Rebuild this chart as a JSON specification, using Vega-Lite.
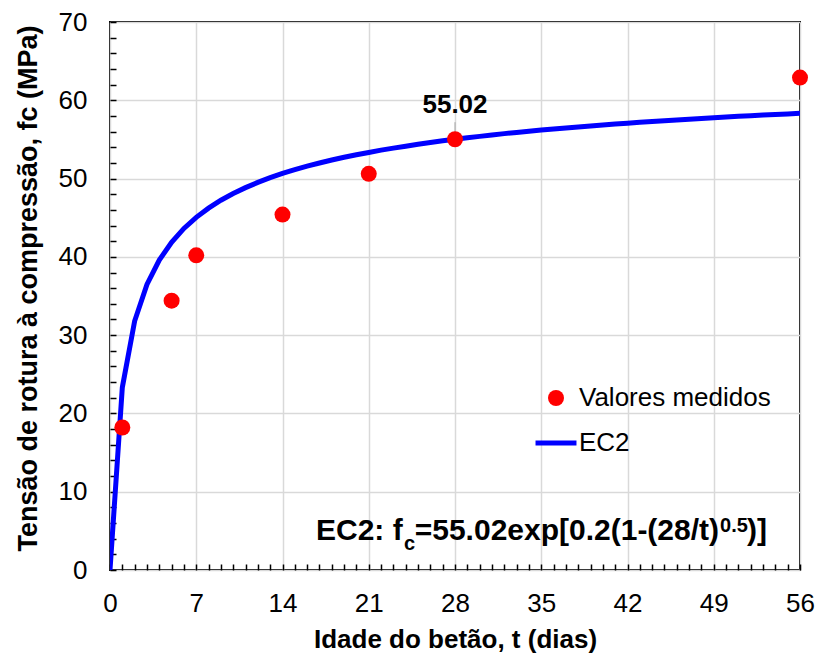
{
  "$schema": "https://vega.github.io/schema/vega-lite/v6.json",
  "width": 690,
  "height": 548,
  "autosize": "none",
  "padding": {"left": 110, "top": 22, "right": 17, "bottom": 85},
  "background": "white",
  "config": {
    "font": "Liberation Sans",
    "view": {"stroke": "#000000", "strokeWidth": 2}
  },
  "datasets": {
    "measured": [
      {"t": 1, "fc": 18.2, "series": "Valores medidos"},
      {"t": 5, "fc": 34.4, "series": "Valores medidos"},
      {"t": 7, "fc": 40.2, "series": "Valores medidos"},
      {"t": 14, "fc": 45.4, "series": "Valores medidos"},
      {"t": 21, "fc": 50.6, "series": "Valores medidos"},
      {"t": 28, "fc": 55.02, "series": "Valores medidos"},
      {"t": 56, "fc": 62.9, "series": "Valores medidos"}
    ],
    "ec2": [
      {"t": 0, "fc": 0}, {"t": 1, "fc": 23.32}, {"t": 2, "fc": 31.8}, {"t": 3, "fc": 36.48},
      {"t": 4, "fc": 39.59}, {"t": 5, "fc": 41.86}, {"t": 6, "fc": 43.63}, {"t": 7, "fc": 45.05},
      {"t": 8, "fc": 46.22}, {"t": 9, "fc": 47.23}, {"t": 10, "fc": 48.09}, {"t": 11, "fc": 48.84},
      {"t": 12, "fc": 49.51}, {"t": 13, "fc": 50.11}, {"t": 14, "fc": 50.65}, {"t": 15, "fc": 51.13},
      {"t": 16, "fc": 51.58}, {"t": 17, "fc": 51.99}, {"t": 18, "fc": 52.37}, {"t": 19, "fc": 52.72},
      {"t": 20, "fc": 53.04}, {"t": 21, "fc": 53.34}, {"t": 22, "fc": 53.63}, {"t": 23, "fc": 53.89},
      {"t": 24, "fc": 54.14}, {"t": 25, "fc": 54.38}, {"t": 26, "fc": 54.61}, {"t": 27, "fc": 54.82},
      {"t": 28, "fc": 55.02}, {"t": 29, "fc": 55.21}, {"t": 30, "fc": 55.39}, {"t": 31, "fc": 55.57},
      {"t": 32, "fc": 55.74}, {"t": 33, "fc": 55.89}, {"t": 34, "fc": 56.05}, {"t": 35, "fc": 56.19},
      {"t": 36, "fc": 56.33}, {"t": 37, "fc": 56.47}, {"t": 38, "fc": 56.6}, {"t": 39, "fc": 56.73},
      {"t": 40, "fc": 56.85}, {"t": 41, "fc": 56.96}, {"t": 42, "fc": 57.08}, {"t": 43, "fc": 57.19},
      {"t": 44, "fc": 57.29}, {"t": 45, "fc": 57.39}, {"t": 46, "fc": 57.49}, {"t": 47, "fc": 57.59},
      {"t": 48, "fc": 57.68}, {"t": 49, "fc": 57.77}, {"t": 50, "fc": 57.86}, {"t": 51, "fc": 57.95},
      {"t": 52, "fc": 58.03}, {"t": 53, "fc": 58.11}, {"t": 54, "fc": 58.19}, {"t": 55, "fc": 58.26},
      {"t": 56, "fc": 58.34}
    ]
  },
  "layer": [
    {
      "data": {"name": "ec2"},
      "mark": {"type": "line", "color": "#0000ff", "strokeWidth": 5, "clip": true},
      "encoding": {
        "x": {
          "field": "t", "type": "quantitative",
          "scale": {"domain": [0, 56], "nice": false, "zero": false},
          "axis": {
            "title": "Idade do betão, t (dias)",
            "values": [0,1,2,3,4,5,6,7,8,9,10,11,12,13,14,15,16,17,18,19,20,21,22,23,24,25,26,27,28,29,30,31,32,33,34,35,36,37,38,39,40,41,42,43,44,45,46,47,48,49,50,51,52,53,54,55,56],
            "tickCount": 200,
            "format": "d",
            "offset": -6,
            "domain": false,
            "labelExpr": "datum.value % 7 === 0 ? datum.label : ''",
            "labelFontSize": 26, "labelColor": "#000000", "labelPadding": 20,
            "labelFlush": false, "labelOverlap": false,
            "ticks": true, "tickOpacity": 1,
            "tickSize": 6, "tickColor": "#000000", "tickWidth": 1.5,
            "grid": true, "gridColor": "#d9d9d9", "gridWidth": 1.5,
            "gridOpacity": {"condition": {"test": "datum.value % 7 === 0", "value": 1}, "value": 0},
            "titleFontSize": 26, "titleFontWeight": "bold", "titleColor": "#000000", "titlePadding": 10
          }
        },
        "y": {
          "field": "fc", "type": "quantitative",
          "scale": {"domain": [0, 70], "nice": false, "zero": false},
          "axis": {
            "title": "Tensão de rotura à compressão, fc (MPa)",
            "values": [0,2,4,6,8,10,12,14,16,18,20,22,24,26,28,30,32,34,36,38,40,42,44,46,48,50,52,54,56,58,60,62,64,66,68,70],
            "tickCount": 200,
            "format": "d",
            "offset": -6,
            "domain": false,
            "labelExpr": "datum.value % 10 === 0 ? datum.label : ''",
            "labelFontSize": 26, "labelColor": "#000000", "labelPadding": 23,
            "labelFlush": false, "labelOverlap": false,
            "ticks": true, "tickOpacity": 1,
            "tickSize": 6, "tickColor": "#000000", "tickWidth": 1.5,
            "grid": true, "gridColor": "#d9d9d9", "gridWidth": 1.5,
            "gridOpacity": {"condition": {"test": "datum.value % 10 === 0", "value": 1}, "value": 0},
            "titleFontSize": 27, "titleFontWeight": "bold", "titleColor": "#000000", "titlePadding": 16,
            "titleY": 266
          }
        }
      }
    },
    {
      "data": {"name": "measured"},
      "transform": [{"filter": "datum.t === 28"}],
      "mark": {"type": "rule", "color": "#a6a6a6", "strokeWidth": 1},
      "encoding": {
        "x": {"field": "t", "type": "quantitative"},
        "y": {"field": "fc", "type": "quantitative"},
        "y2": {"datum": 57.2}
      }
    },
    {
      "data": {"name": "measured"},
      "mark": {"type": "point", "filled": true, "shape": "circle", "size": 256, "opacity": 1},
      "encoding": {
        "x": {"field": "t", "type": "quantitative"},
        "y": {"field": "fc", "type": "quantitative"},
        "color": {
          "field": "series", "type": "nominal",
          "scale": {"domain": ["Valores medidos", "EC2"], "range": ["#ff0000", "#0000ff"]},
          "legend": {
            "title": null, "orient": "none", "legendX": 433, "legendY": 363,
            "labelFont": "Liberation Sans", "labelFontSize": 26, "labelColor": "#000000", "labelLimit": 0,
            "symbolSize": 256, "labelOffset": 10, "rowPadding": 19, "padding": 0,
            "symbolStrokeWidth": 0, "symbolOpacity": 1,
            "encode": {
              "symbols": {
                "update": {
                  "shape": {"signal": "datum.value === 'EC2' ? 'M-2.56,-0.31L2.56,-0.31L2.56,0.31L-2.56,0.31Z' : 'circle'"}
                }
              }
            }
          }
        }
      }
    },
    {
      "data": {"name": "measured"},
      "transform": [{"filter": "datum.t === 28"}],
      "mark": {"type": "text", "font": "Liberation Sans", "fontWeight": "bold", "fontSize": 26, "align": "center", "baseline": "alphabetic", "color": "#000000"},
      "encoding": {
        "x": {"field": "t", "type": "quantitative"},
        "y": {"datum": 58.37, "type": "quantitative"},
        "text": {"field": "fc", "type": "quantitative", "format": ".2f"}
      }
    },
    {
      "data": {"values": [{}]},
      "mark": {"type": "text", "text": "EC2: f", "font": "Liberation Sans", "fontWeight": "bold", "fontSize": 30, "align": "left", "baseline": "alphabetic", "color": "#000000"},
      "encoding": {
        "x": {"datum": 16.72, "type": "quantitative"},
        "y": {"datum": 3.83, "type": "quantitative"}
      }
    },
    {
      "data": {"values": [{}]},
      "mark": {"type": "text", "text": "c", "font": "Liberation Sans", "fontWeight": "bold", "fontSize": 20, "align": "left", "baseline": "alphabetic", "color": "#000000"},
      "encoding": {
        "x": {"datum": 23.86, "type": "quantitative"},
        "y": {"datum": 2.55, "type": "quantitative"}
      }
    },
    {
      "data": {"values": [{}]},
      "mark": {"type": "text", "text": "=55.02exp[0.2(1-(28/t)", "font": "Liberation Sans", "fontWeight": "bold", "fontSize": 30, "align": "right", "baseline": "alphabetic", "color": "#000000"},
      "encoding": {
        "x": {"datum": 49.43, "type": "quantitative"},
        "y": {"datum": 3.83, "type": "quantitative"}
      }
    },
    {
      "data": {"values": [{}]},
      "mark": {"type": "text", "text": "0.5", "font": "Liberation Sans", "fontWeight": "bold", "fontSize": 20, "align": "left", "baseline": "alphabetic", "color": "#000000"},
      "encoding": {
        "x": {"datum": 49.51, "type": "quantitative"},
        "y": {"datum": 4.85, "type": "quantitative"}
      }
    },
    {
      "data": {"values": [{}]},
      "mark": {"type": "text", "text": ")]", "font": "Liberation Sans", "fontWeight": "bold", "fontSize": 30, "align": "left", "baseline": "alphabetic", "color": "#000000"},
      "encoding": {
        "x": {"datum": 51.7, "type": "quantitative"},
        "y": {"datum": 3.83, "type": "quantitative"}
      }
    }
  ]
}
